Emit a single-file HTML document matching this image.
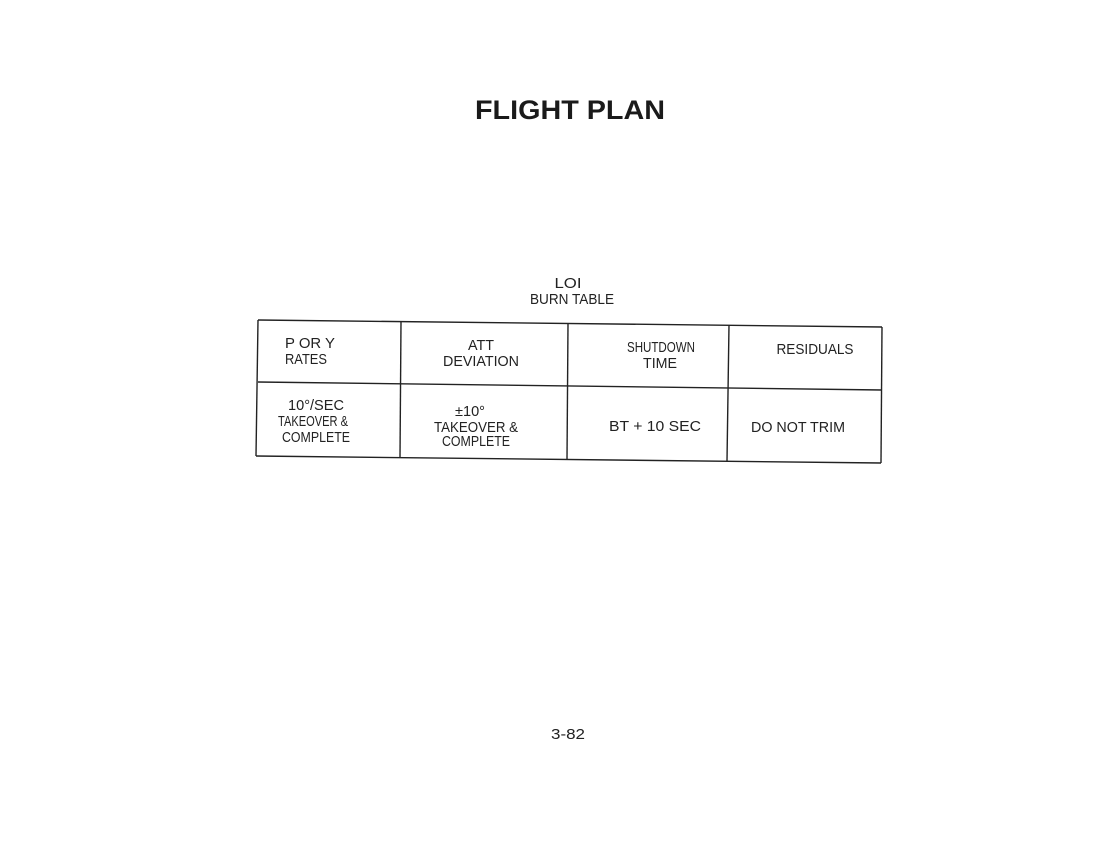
<!DOCTYPE html>
<html><head><meta charset="utf-8"><style>
html,body{margin:0;padding:0;background:#fff;}
svg{display:block;}
text{font-family:"Liberation Sans",sans-serif;fill:#222;font-size:15px;}
</style></head><body>
<svg width="1100" height="850" viewBox="0 0 1100 850" xmlns="http://www.w3.org/2000/svg">
<text x="570" y="119" text-anchor="middle" style="font-size:27px;font-weight:bold;fill:#1a1a1a" textLength="190" lengthAdjust="spacingAndGlyphs">FLIGHT PLAN</text>
<text x="568" y="288" text-anchor="middle" textLength="27" lengthAdjust="spacingAndGlyphs">LOI</text>
<text x="572" y="304" text-anchor="middle" textLength="84" lengthAdjust="spacingAndGlyphs">BURN TABLE</text>
<g stroke="#222" stroke-width="1.4" fill="none">
<line x1="258" y1="320" x2="882" y2="327"/>
<line x1="258" y1="382" x2="882" y2="390"/>
<line x1="256" y1="456" x2="881" y2="463"/>
<line x1="258" y1="320" x2="256" y2="456"/>
<line x1="882" y1="327" x2="881" y2="463"/>
<line x1="401" y1="322" x2="400" y2="457"/>
<line x1="568" y1="324" x2="567" y2="459"/>
<line x1="729" y1="325" x2="727" y2="461"/>
</g>
<text x="285" y="348" textLength="50" lengthAdjust="spacingAndGlyphs">P OR Y</text>
<text x="285" y="364" textLength="42" lengthAdjust="spacingAndGlyphs">RATES</text>
<text x="481" y="350" text-anchor="middle" textLength="26" lengthAdjust="spacingAndGlyphs">ATT</text>
<text x="481" y="366" text-anchor="middle" textLength="76" lengthAdjust="spacingAndGlyphs">DEVIATION</text>
<text x="661" y="352" text-anchor="middle" textLength="68" lengthAdjust="spacingAndGlyphs">SHUTDOWN</text>
<text x="660" y="368" text-anchor="middle" textLength="34" lengthAdjust="spacingAndGlyphs">TIME</text>
<text x="815" y="354" text-anchor="middle" textLength="77" lengthAdjust="spacingAndGlyphs">RESIDUALS</text>
<text x="316" y="410" text-anchor="middle" textLength="56" lengthAdjust="spacingAndGlyphs">10°/SEC</text>
<text x="313" y="426" text-anchor="middle" textLength="70" lengthAdjust="spacingAndGlyphs">TAKEOVER &amp;</text>
<text x="316" y="442" text-anchor="middle" textLength="68" lengthAdjust="spacingAndGlyphs">COMPLETE</text>
<text x="470" y="416" text-anchor="middle" textLength="30" lengthAdjust="spacingAndGlyphs">±10°</text>
<text x="476" y="432" text-anchor="middle" textLength="84" lengthAdjust="spacingAndGlyphs">TAKEOVER &amp;</text>
<text x="476" y="446" text-anchor="middle" textLength="68" lengthAdjust="spacingAndGlyphs">COMPLETE</text>
<text x="655" y="431" text-anchor="middle" textLength="92" lengthAdjust="spacingAndGlyphs">BT + 10 SEC</text>
<text x="798" y="432" text-anchor="middle" textLength="94" lengthAdjust="spacingAndGlyphs">DO NOT TRIM</text>
<text x="568" y="739" text-anchor="middle" textLength="34" lengthAdjust="spacingAndGlyphs">3-82</text>
</svg>
</body></html>
